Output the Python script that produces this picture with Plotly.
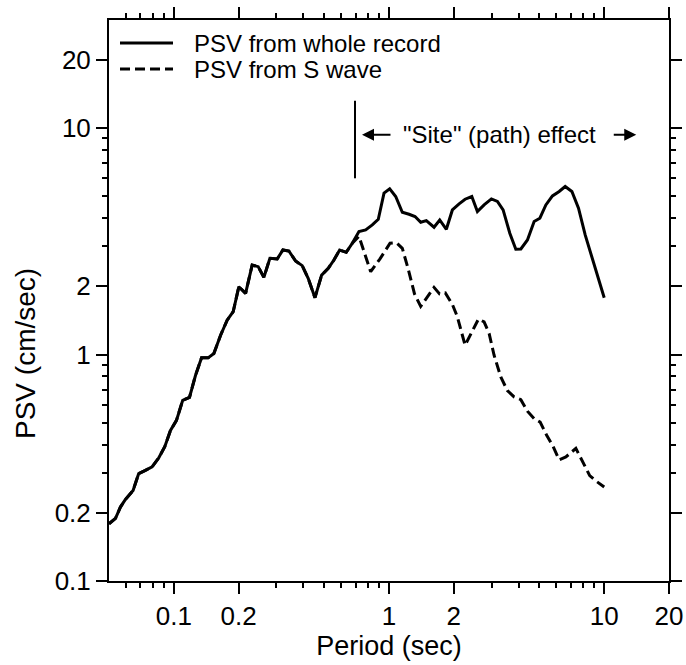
import math
import plotly.graph_objects as go

# Solid curve: PSV from whole record
period_whole = [0.05, 0.0536, 0.0565, 0.0596, 0.0647, 0.0687, 0.0738, 0.0793, 0.0852, 0.0908,
                0.0965, 0.1029, 0.110, 0.1183, 0.1262, 0.1346, 0.1444, 0.1535, 0.165, 0.177,
                0.1888, 0.2006, 0.2156, 0.2313, 0.2467, 0.2622, 0.2796, 0.3023, 0.3214, 0.3426,
                0.3681, 0.3952, 0.4212, 0.4529, 0.4864, 0.5221, 0.5548, 0.5897, 0.633, 0.6752,
                0.7253, 0.7791, 0.8363, 0.8917, 0.948, 1.0075, 1.0744, 1.153, 1.239, 1.321,
                1.404, 1.491, 1.619, 1.721, 1.847, 1.97, 2.117, 2.257, 2.425, 2.575,
                2.766, 2.991, 3.19, 3.39, 3.642, 3.884, 4.099, 4.398, 4.725, 5.023,
                5.356, 5.747, 6.176, 6.587, 7.076, 7.596, 8.158, 8.823, 10.0]
psv_whole = [0.179, 0.189, 0.212, 0.229, 0.251, 0.298, 0.308, 0.319, 0.350, 0.392,
             0.462, 0.512, 0.628, 0.647, 0.810, 0.967, 0.967, 1.01, 1.217, 1.418,
             1.545, 1.993, 1.862, 2.484, 2.443, 2.191, 2.66, 2.641, 2.894, 2.865,
             2.587, 2.469, 2.169, 1.782, 2.243, 2.401, 2.615, 2.894, 2.827, 3.099,
             3.491, 3.548, 3.734, 3.957, 5.158, 5.389, 4.986, 4.249, 4.164, 4.067,
             3.837, 3.904, 3.648, 3.928, 3.573, 4.349, 4.624, 4.85, 4.986, 4.28,
             4.577, 4.867, 4.74, 4.349, 3.431, 2.915, 2.924, 3.205, 3.866, 3.998,
             4.577, 5.016, 5.248, 5.521, 5.248, 4.426, 3.373, 2.615, 1.782]

# Dashed curve: PSV from S wave (coincides with the whole record below ~0.7 s)
period_s = [0.05, 0.0536, 0.0565, 0.0596, 0.0647, 0.0687, 0.0738, 0.0793, 0.0852, 0.0908,
            0.0965, 0.1029, 0.110, 0.1183, 0.1262, 0.1346, 0.1444, 0.1535, 0.165, 0.177,
            0.1888, 0.2006, 0.2156, 0.2313, 0.2467, 0.2622, 0.2796, 0.3023, 0.3214, 0.3426,
            0.3681, 0.3952, 0.4212, 0.4529, 0.4864, 0.5221, 0.5548, 0.5897, 0.633, 0.6752,
            0.7253, 0.822, 0.908, 1.011, 1.084, 1.153, 1.226, 1.314, 1.404, 1.507,
            1.619, 1.718, 1.827, 1.97, 2.078, 2.257, 2.425, 2.603, 2.766, 2.919,
            3.078, 3.307, 3.549, 3.814, 4.099, 4.398, 4.725, 5.039, 5.403, 5.791,
            6.176, 6.635, 7.385, 7.927, 8.563, 9.18, 10.0]
psv_s = [0.179, 0.189, 0.212, 0.229, 0.251, 0.298, 0.308, 0.319, 0.350, 0.392,
         0.462, 0.512, 0.628, 0.647, 0.810, 0.967, 0.967, 1.01, 1.217, 1.418,
         1.545, 1.993, 1.862, 2.484, 2.443, 2.191, 2.66, 2.641, 2.894, 2.865,
         2.587, 2.469, 2.169, 1.782, 2.243, 2.401, 2.615, 2.894, 2.827, 3.099,
         3.327, 2.322, 2.646, 3.099, 3.114, 2.944, 2.401, 1.852, 1.631, 1.80,
         1.979, 1.852, 1.872, 1.664, 1.468, 1.099, 1.26, 1.433, 1.395, 1.238,
         0.993, 0.797, 0.693, 0.65, 0.632, 0.562, 0.521, 0.503, 0.44, 0.392,
         0.343, 0.353, 0.385, 0.338, 0.292, 0.276, 0.26]

series_names = ["PSV from whole record", "PSV from S wave"]

x_major = [0.1, 0.2, 1, 2, 10, 20]
x_major_text = ["0.1", "0.2", "1", "2", "10", "20"]
x_minor = [0.06, 0.07, 0.08, 0.09, 0.3, 0.4, 0.5, 0.6, 0.7, 0.8, 0.9,
           3, 4, 5, 6, 7, 8, 9]
y_major = [0.1, 0.2, 1, 2, 10, 20]
y_major_text = ["0.1", "0.2", "1", "2", "10", "20"]
y_minor = [0.3, 0.4, 0.5, 0.6, 0.7, 0.8, 0.9, 3, 4, 5, 6, 7, 8, 9]

site_marker_period = [0.695, 0.695]
site_marker_psv = [6.0, 13.2]
arrow_left_head = 0.749
arrow_right_head = 14.09
label_period = 3.25
label_psv = 9.34

FONT = "Liberation Sans, Arial, Helvetica, sans-serif"

fig = go.Figure()
fig.add_trace(go.Scatter(x=period_whole, y=psv_whole, mode="lines",
                         name=series_names[0], showlegend=False,
                         line=dict(color="black", width=3)))
fig.add_trace(go.Scatter(x=period_s, y=psv_s, mode="lines",
                         name=series_names[1], showlegend=False,
                         line=dict(color="black", width=3, dash="10px,5px")))
fig.add_trace(go.Scatter(x=site_marker_period, y=site_marker_psv, mode="lines",
                         showlegend=False, hoverinfo="skip",
                         line=dict(color="black", width=2)))

# Legend drawn as line samples + text (compact rows like the original)
PLOT_L, PLOT_T, PLOT_W, PLOT_H = 109, 20, 560, 561
def px(xp):
    return (xp - PLOT_L) / PLOT_W
def py(yp):
    return 1 - (yp - PLOT_T) / PLOT_H

legend_rows = [(43, "solid"), (69, "10px,5px")]
for (row_y, dash), name in zip(legend_rows, series_names):
    fig.add_shape(type="line", xref="paper", yref="paper",
                  x0=px(120), x1=px(173), y0=py(row_y), y1=py(row_y),
                  line=dict(color="black", width=3, dash=dash))
    fig.add_annotation(x=px(192), y=py(row_y), xref="paper", yref="paper",
                       xanchor="left", yanchor="middle", text=name, showarrow=False,
                       font=dict(family=FONT, size=24, color="black"))

# y-axis title (sits lower than the axis centre in the original)
fig.add_annotation(x=px(25), y=py(354), xref="paper", yref="paper",
                   xanchor="center", yanchor="middle", textangle=-90,
                   text="PSV (cm/sec)", showarrow=False,
                   font=dict(family=FONT, size=28, color="black"))

fig.add_annotation(x=math.log10(label_period), y=math.log10(label_psv), xref="x", yref="y",
                   text='"Site" (path) effect', showarrow=False,
                   font=dict(family=FONT, size=24, color="black"))
fig.add_annotation(x=math.log10(arrow_left_head), y=math.log10(label_psv), xref="x", yref="y",
                   ax=30, ay=0, axref="pixel", ayref="pixel", text="", showarrow=True,
                   arrowhead=2, arrowsize=1.2, arrowwidth=2, arrowcolor="black")
fig.add_annotation(x=math.log10(arrow_right_head), y=math.log10(label_psv), xref="x", yref="y",
                   ax=-24, ay=0, axref="pixel", ayref="pixel", text="", showarrow=True,
                   arrowhead=2, arrowsize=1.2, arrowwidth=2, arrowcolor="black")

axis_common = dict(type="log", showgrid=False, zeroline=False, showline=True,
                   linecolor="black", linewidth=2, mirror="ticks", ticks="outside",
                   ticklen=11, tickwidth=2, tickcolor="black", automargin=False,
                   tickfont=dict(family=FONT, size=26, color="black"))

fig.update_xaxes(**axis_common, range=[math.log10(0.05), math.log10(20)],
                 tickmode="array", tickvals=x_major, ticktext=x_major_text,
                 minor=dict(tickmode="array", tickvals=x_minor, ticks="outside",
                            ticklen=5, tickwidth=2, tickcolor="black", showgrid=False),
                 title=dict(text="Period (sec)", font=dict(family=FONT, size=27, color="black"),
                            standoff=6))
fig.update_yaxes(**axis_common, range=[-1, math.log10(30)],
                 tickmode="array", tickvals=y_major, ticktext=y_major_text,
                 minor=dict(tickmode="array", tickvals=y_minor, ticks="outside",
                            ticklen=5, tickwidth=2, tickcolor="black", showgrid=False))

fig.update_layout(width=686, height=665,
                  margin=dict(l=109, r=17, t=20, b=84),
                  paper_bgcolor="white", plot_bgcolor="white",
                  font=dict(family=FONT, size=24, color="black"),
                  showlegend=False)

fig.write_html("out.html")
